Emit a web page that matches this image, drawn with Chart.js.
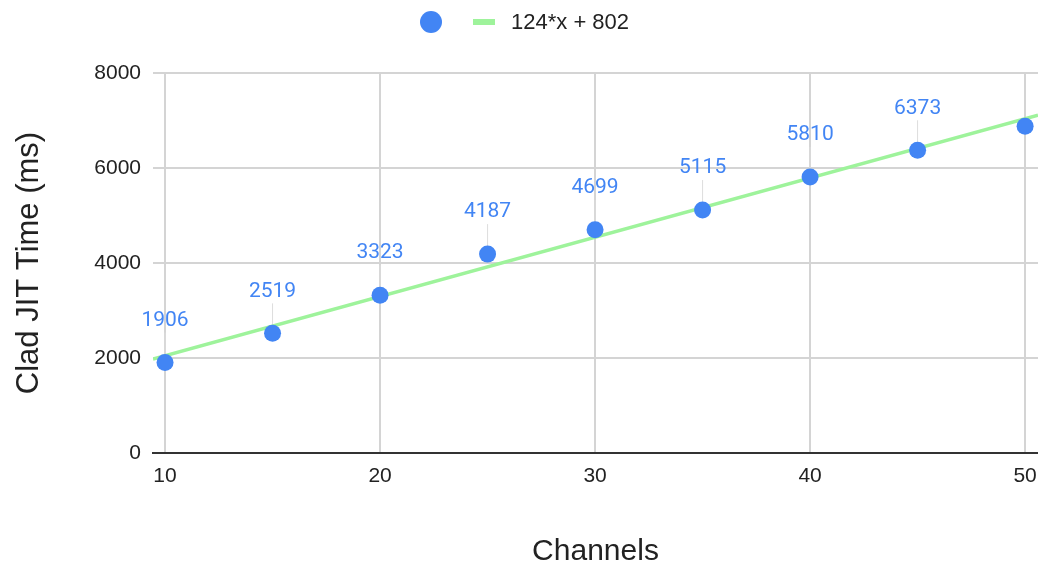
<!DOCTYPE html>
<html>
<head>
<meta charset="utf-8">
<script src="https://cdn.jsdelivr.net/npm/chart.js@4"></script>
<style>
  html, body { margin: 0; padding: 0; background: #fff; }
  #wrap { width: 1038px; height: 567px; }
</style>
</head>
<body>
<div id="wrap"><canvas id="grafico" width="1038" height="567"></canvas></div>
<script>
// datos
const channels = [10, 15, 20, 25, 30, 35, 40, 45, 50];
const jitTime = [1906, 2519, 3323, 4187, 4699, 5115, 5810, 6373, 6880];
const pointLabels = ['1906', '2519', '3323', '4187', '4699', '5115', '5810', '6373', ''];
const trendX = [9.44, 50.6];
const trendY = [1980, 7110];
const trendName = '124*x + 802';
const xTicks = [10, 20, 30, 40, 50];
const yTicks = [0, 2000, 4000, 6000, 8000];

const AZUL = '#4285f4';
const VERDE = '#9ef39b';
const SANS = '"Liberation Sans", Arial, sans-serif';

// etiquetas sobre los puntos con linea guia
const etiquetas = {
  id: 'etiquetas',
  beforeDatasetsDraw(chart) {
    const ctx = chart.ctx;
    const meta = chart.getDatasetMeta(0);
    ctx.save();
    ctx.strokeStyle = '#dddddd';
    ctx.lineWidth = 1;
    meta.data.forEach((p, i) => {
      if (!pointLabels[i]) return;
      ctx.beginPath();
      ctx.moveTo(p.x, p.y - 30);
      ctx.lineTo(p.x, p.y - 8);
      ctx.stroke();
    });
    ctx.restore();
  },
  afterDatasetsDraw(chart) {
    const ctx = chart.ctx;
    const meta = chart.getDatasetMeta(0);
    ctx.save();
    ctx.fillStyle = AZUL;
    ctx.font = '21px Roboto, sans-serif';
    ctx.textAlign = 'center';
    ctx.textBaseline = 'middle';
    meta.data.forEach((p, i) => {
      if (!pointLabels[i]) return;
      ctx.fillText(pointLabels[i], p.x, p.y - 42);
    });
    ctx.restore();
  }
};

// leyenda arriba
const leyenda = {
  id: 'leyenda',
  afterDraw(chart) {
    const ctx = chart.ctx;
    ctx.save();
    ctx.fillStyle = AZUL;
    ctx.beginPath();
    ctx.arc(431, 22, 11, 0, Math.PI * 2);
    ctx.fill();
    ctx.strokeStyle = VERDE;
    ctx.lineWidth = 6;
    ctx.beginPath();
    ctx.moveTo(473, 22);
    ctx.lineTo(495, 22);
    ctx.stroke();
    ctx.fillStyle = '#222222';
    ctx.font = '22px ' + SANS;
    ctx.textAlign = 'left';
    ctx.textBaseline = 'middle';
    ctx.fillText(trendName, 511, 23);
    ctx.restore();
  }
};

new Chart(document.querySelector('#grafico'), {
  type: 'scatter',
  data: {
    datasets: [
      {
        label: 'Clad JIT Time (ms)',
        data: channels.map((c, i) => ({ x: c, y: jitTime[i] })),
        backgroundColor: AZUL,
        borderWidth: 0,
        pointRadius: 8.5,
        pointHoverRadius: 8.5,
        clip: false
      },
      {
        label: trendName,
        type: 'line',
        data: trendX.map((x, i) => ({ x: x, y: trendY[i] })),
        borderColor: VERDE,
        borderWidth: 3.5,
        pointRadius: 0,
        fill: false
      }
    ]
  },
  options: {
    responsive: false,
    animation: false,
    events: [],
    layout: { autoPadding: false, padding: { top: 73, right: 0, left: 0, bottom: 0 } },
    plugins: { legend: { display: false }, tooltip: { enabled: false } },
    scales: {
      x: {
        type: 'linear',
        min: trendX[0],
        max: trendX[1],
        afterBuildTicks: s => { s.ticks = xTicks.map(v => ({ value: v })); },
        afterFit: s => { s.height = 114; s.paddingLeft = 0; s.paddingRight = 0; },
        grid: { color: '#d4d4d4', lineWidth: 2, drawTicks: false },
        border: { display: true, color: '#333333', width: 2 },
        ticks: { color: '#222222', font: { family: SANS, size: 21 }, padding: 11 },
        title: {
          display: true, text: 'Channels', color: '#222222',
          font: { family: SANS, size: 30, lineHeight: 1 },
          padding: { top: 0, bottom: 0 }
        }
      },
      y: {
        min: 0,
        max: 8000,
        afterBuildTicks: s => { s.ticks = yTicks.map(v => ({ value: v })); },
        afterFit: s => { s.width = 153; s.paddingTop = 0; s.paddingBottom = 0; },
        grid: { color: '#d4d4d4', lineWidth: 2, drawTicks: false },
        border: { display: false },
        ticks: {
          color: '#222222', font: { family: SANS, size: 21 }, padding: 12,
          callback: v => String(v)
        },
        title: {
          display: true, text: 'Clad JIT Time (ms)', color: '#222222',
          font: { family: SANS, size: 31, lineHeight: 1 },
          padding: { top: 14, bottom: 0 }
        }
      }
    }
  },
  plugins: [etiquetas, leyenda]
});
</script>
</body>
</html>
